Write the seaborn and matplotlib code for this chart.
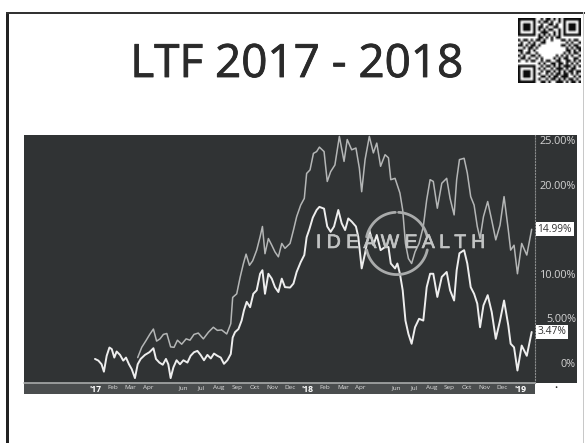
import matplotlib
matplotlib.use("Agg")
import matplotlib.pyplot as plt
import matplotlib.patheffects as pe
from matplotlib.patches import Rectangle
import numpy as np
import pandas as pd
import seaborn as sns

TITLE = "LTF 2017 - 2018"
WATERMARK = "I D E A W E A L T H"

# years since January 2017 and percent return
lower_t = [0.000,.016,.031,.042,.055,.068,.079,.091,.102,.118,.133,.146,.160,.173,.188,.201,.215,.235,.256,.275,.287,.303,.319,.334,.345,.356,.369,.384,.400,.416,.435,.450,.466,.482,.497,.513,.529,.545,.560,.576,.592,.607,.623,.639,.648,.659,.675,.690,.701,.714,.730,.745,.761,.777,.788,.800,.816,.832,.847,.863,.879,.894,.918,.934,.949,.968,.985,.996,1.009,1.025,1.043,1.056,
           1.078,1.093,1.109,1.125,1.145,1.161,1.177,1.192,1.208,1.228,1.239,1.255,1.271,1.291,1.310,1.326,1.344,1.365,1.381,1.392,1.412,1.423,1.435,1.448,1.461,1.475,1.490,1.506,1.525,1.545,1.561,1.577,1.592,1.611,1.632,1.655,1.671,1.690,1.702,1.715,1.737,1.752,1.768,1.784,1.799,1.812,1.828,1.848,1.867,1.886,1.906,1.925,1.945,1.956,1.972,1.988,2.008,2.032,2.055]
lower_pct = [.45,.26,-.15,-.98,.79,1.73,1.55,.6,1.28,.9,.26,.6,-.15,-.7,-1.7,-.15,.45,.9,1.2,1.65,.45,.04,-.2,.45,-.15,-1.7,-.5,.3,-.15,.3,.04,.8,1.2,1.35,.9,.3,.9,.5,1.05,.8,.6,-.1,.3,1,2.85,3.45,3.8,4.75,5.9,6.85,6.25,7.75,8.15,10,10.4,7.75,10,9.45,8.5,7.95,9.45,8.5,8.45,8.9,10.2,11.3,12.1,14.1,15,16.3,17.15,17.5,
             17.3,15.3,14.7,15.3,17.15,15.65,14.9,16.2,15.85,15.3,14.15,10.6,12.3,14.9,13.2,14.35,12.65,13,13,11.15,10.6,11.15,10,8.15,4.75,3.25,2.15,4,4.95,4.75,8.5,10,10,7.4,9.65,10.2,8.15,7,10.4,12.3,12.65,11.15,8.5,7.75,6.65,4,6.45,7.6,5.7,2.7,4.75,7,4.2,2.15,1.75,-.85,1.95,.8,3.47]

upper_t = [.201,.220,.240,.259,.275,.290,.306,.322,.338,.356,.372,.388,.408,.429,.447,.466,.486,.510,.534,.557,.576,.596,.620,.639,.648,.667,.683,.698,.711,.727,.742,.761,.777,.788,.800,.816,.832,.847,.863,.879,.894,.918,.934,.949,.968,.985,.996,1.012,1.028,1.043,1.056,
           1.078,1.093,1.109,1.129,1.150,1.172,1.187,1.208,1.228,1.244,1.255,1.271,1.291,1.310,1.326,1.344,1.365,1.381,1.392,1.412,1.435,1.448,1.461,1.475,1.490,1.506,1.525,1.545,1.561,1.577,1.592,1.611,1.632,1.655,1.671,1.690,1.702,1.715,1.737,1.752,1.768,1.784,1.799,1.812,1.828,1.848,1.867,1.886,1.906,1.925,1.945,1.956,1.972,1.988,2.008,2.032,2.055]
upper_pct = [.6,1.75,2.5,3.25,3.8,2.45,2.7,3.2,3.3,1.8,1.75,2.55,2.1,2.7,2.55,3.2,3.35,2.7,3.45,4,3.65,3.7,3.25,4.4,7.35,7.75,9.6,11.1,12.2,10.95,11.45,12.65,14.15,15.3,12.25,13.95,13.2,12.45,11.9,13.4,12.85,13.4,14.9,16.4,17.7,18.45,21.25,21.65,23.5,23.7,24.2,
             23.7,20.35,21.45,22.2,25.4,22.6,25.05,23.9,24.1,21.85,19.2,22.8,25.4,23.55,24.65,22.05,23.35,23,20.55,20.7,19.05,17.15,13.4,11.7,11.15,12.45,13.4,15.3,18.3,20.55,20.35,17.35,20.15,20.7,18.45,16.6,20.55,22.8,22.95,21.3,18.65,17.7,15.3,13.95,16.4,18.1,16,13.8,15.45,18.65,14.9,12.65,13.2,10,13.4,12.1,14.99]

y_ticks = [0, 5, 10, 20, 25]
y_labels = ["0%", "5.00%", "10.00%", "20.00%", "25.00%"]
x_ticks = [i / 12 for i in range(25)]
x_labels = ["'17","Feb","Mar","Apr","","Jun","Jul","Aug","Sep","Oct","Nov","Dec",
            "'18","Feb","Mar","Apr","","Jun","Jul","Aug","Sep","Oct","Nov","Dec","'19"]

QR = ["1111111001011010101111111","1000001010110100101000001","1011101001001101001011101",
      "1011101011010011001011101","1011101010101100101011101","1000001001110010101000001",
      "1111111010101010101111111","0000000011010101100000000","1011010110100100011010110",
      "0100101001100000000101001","1101011010000000011010110","0010110100000000000101011",
      "1100101000000000000110101","0101100100000000001010110","1010011010000001010101001",
      "0110100101000010101100110","1001011001011001100110101","0000000010100110110101010",
      "1111111001011010101110101","1000001010100101110101100","1011101001011010101011011",
      "1011101010010101101101010","1011101001101011011100101","1000001010010110101011010",
      "1111111001101001110101101"]

W, H = 585, 443
def box(l, t, r, b):
    return [l / W, 1 - b / H, (r - l) / W, (b - t) / H]

sns.set_theme(style="white")
plt.rcParams["font.family"] = ["Open Sans", "DejaVu Sans"]
DARK = "#303334"
fig = plt.figure(figsize=(W / 100, H / 100), dpi=100, facecolor="white")

# page frame
for rect, col in [(box(6, 12, 8.5, 443), "#222222"), (box(6, 12, 585, 13.5), "#333333"),
                  (box(582.5, 12, 584, 443), "#c8c8c8")]:
    fig.add_artist(Rectangle((rect[0], rect[1]), rect[2], rect[3], transform=fig.transFigure,
                             fc=col, ec="none", zorder=-1))
# right label strip and lower date strip
for rect, col in [(box(535, 135, 577, 383), DARK), (box(24, 383, 535, 393.5), "#4a4d4e")]:
    fig.add_artist(Rectangle((rect[0], rect[1]), rect[2], rect[3], transform=fig.transFigure,
                             fc=col, ec="none", zorder=-1))

ax = fig.add_axes(box(24, 135, 535, 383), facecolor=DARK)
lower = pd.DataFrame({"t": lower_t, "pct": lower_pct})
upper = pd.DataFrame({"t": upper_t, "pct": upper_pct})
sns.lineplot(data=upper, x="t", y="pct", ax=ax, color="#b4b6b6", lw=1.1, estimator=None, sort=False, zorder=3)
sns.lineplot(data=lower, x="t", y="pct", ax=ax, color="#eeeeee", lw=1.4, estimator=None, sort=False, zorder=4)
ax.set_xlim(-0.334, 2.0706)
ax.set_ylim(-2.25, 25.56)
ax.set_xlabel(""); ax.set_ylabel("")
for s in ["top", "left", "bottom"]:
    ax.spines[s].set_visible(False)
ax.spines["right"].set_color("#8a8c8c")
ax.spines["right"].set_linestyle(":")
ax.spines["right"].set_linewidth(0.8)
ax.axhline(-2.25, color="#a8aaaa", lw=1.2, clip_on=False, zorder=5)

ax.yaxis.tick_right()
ax.set_yticks(y_ticks, y_labels)
ax.tick_params(axis="y", length=0, pad=29.5, labelsize=7.8, labelcolor="#d4d4d4")
for lab in ax.get_yticklabels():
    lab.set_ha("right")
ax.set_xticks(x_ticks, x_labels)
ax.tick_params(axis="x", length=0, pad=1.4, labelsize=4.6, labelcolor="#dddddd")
for lab in ax.get_xticklabels():
    if lab.get_text().startswith("'"):
        lab.set_fontweight("bold"); lab.set_fontsize(6.2); lab.set_color("white")

# watermark: broken ring and lettering
for th1, th2 in [(12, 87), (93, 168), (192, 348)]:
    th = np.radians(np.linspace(th1, th2, 60))
    ax.plot(1.421 + 31 / 212.5 * np.cos(th), 13.4 + 31 / 8.88 * np.sin(th),
            color="#a9abab", lw=2.0, zorder=5)
ax.text(1.4376, 13.4, WATERMARK, ha="center", va="center", color="#c2c4c4", fontsize=14,
        family="Liberation Sans", zorder=6,
        path_effects=[pe.withStroke(linewidth=0.5, foreground="#c2c4c4")])

# last-value callouts
for val, txt in [(upper_pct[-1], "14.99%"), (lower_pct[-1], "3.47%")]:
    ax.annotate(txt, xy=(1.005, val), xycoords=("axes fraction", "data"), va="center", ha="left",
                fontsize=7.4, color="#333333", annotation_clip=False, zorder=7,
                bbox=dict(boxstyle="square,pad=0.15", fc="white", ec="none"))

# title, small dot and QR block
fig.text(297 / W, 1 - 65 / H, TITLE, ha="center", va="center", fontsize=33, color="#2a2a2a",
         path_effects=[pe.withStroke(linewidth=0.6, foreground="#2a2a2a")])
fig.text(556 / W, 1 - 389 / H, "\u2022", ha="center", va="center", fontsize=6, color="#222222")
qax = fig.add_axes(box(518, 18, 581, 83))
qax.imshow(np.array([[int(c) for c in r] for r in QR]), cmap="gray_r", vmin=0, vmax=1.05,
           interpolation="bilinear", aspect="auto")
qax.axis("off")

fig.savefig("out.png", dpi=100, facecolor="white")
